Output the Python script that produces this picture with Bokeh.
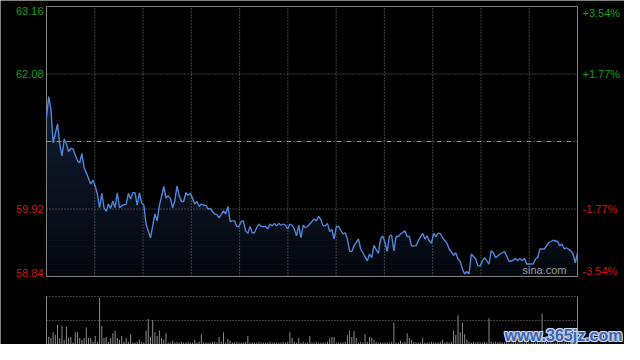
import numpy as np
from bokeh.plotting import figure
from bokeh.models import Range1d
from bokeh.core.properties import value
from bokeh.embed import file_html
from bokeh.resources import INLINE

# ---------------- data ----------------
prev_close = 61.00
price_min, price_max = 58.84, 63.16

minutes = [0, 1, 2, 3, 5, 6, 7, 8, 9, 10, 11, 12, 14, 15, 16, 17, 18, 20, 21, 22, 23, 24, 25, 26, 27, 28, 29, 30,
           31, 32, 33, 34, 35, 36, 37, 38, 39, 40, 41, 42, 43, 44, 45, 47, 48, 49, 50, 51, 53, 54, 55, 56, 57, 58,
           59, 60, 61, 62, 63, 64, 65, 66, 67, 68, 69, 70, 71, 72, 73, 74, 75, 76, 77, 78, 80, 81, 82, 83, 84, 85,
           86, 87, 88, 89, 90, 91, 92, 93, 94, 95, 96, 97, 99, 100, 101, 102, 103, 104, 105, 106, 107, 108, 109,
           110, 111, 112, 113, 114, 115, 116, 117, 118, 119, 121, 122, 123, 124, 125, 126, 127, 128, 129, 130, 131,
           132, 134, 135, 136, 137, 138, 139, 141, 142, 143, 145, 146, 147, 148, 149, 150, 151, 152, 153, 154, 155,
           156, 157, 158, 159, 160, 162, 163, 164, 165, 167, 168, 170, 171, 172, 173, 174, 175, 176, 177, 178, 179,
           181, 182, 184, 185, 186, 187, 188, 189, 190, 191, 192, 194, 195, 196, 197, 198, 199, 200, 201, 202, 203,
           205, 207, 208, 209, 211, 212, 213, 214, 215, 216, 217, 220, 221, 222, 223, 225, 227, 229, 231, 232, 233,
           234, 235, 237, 238, 239, 240]

prices = [61.38, 61.72, 61.52, 60.98, 61.28, 60.96, 60.77, 61.04, 60.96, 60.84, 60.89, 60.88, 60.69, 60.66, 60.81,
          60.58, 60.50, 60.32, 60.38, 60.29, 60.16, 59.94, 60.17, 59.94, 59.88, 60.00, 59.93, 60.05, 59.94, 60.18,
          59.94, 59.97, 59.99, 59.99, 60.17, 60.08, 60.18, 60.18, 59.98, 60.18, 60.02, 59.98, 59.68, 59.46, 59.65,
          59.84, 59.73, 59.97, 60.28, 60.10, 60.13, 60.09, 59.94, 60.05, 60.29, 60.13, 60.04, 60.04, 60.18, 60.14,
          60.17, 60.09, 60.00, 60.04, 59.96, 60.00, 59.98, 59.98, 59.92, 59.93, 59.88, 59.84, 59.83, 59.78, 59.89,
          59.84, 59.96, 59.72, 59.73, 59.73, 59.64, 59.64, 59.72, 59.73, 59.57, 59.53, 59.64, 59.54, 59.54, 59.62,
          59.68, 59.64, 59.64, 59.60, 59.68, 59.65, 59.69, 59.65, 59.69, 59.66, 59.68, 59.66, 59.60, 59.68, 59.66,
          59.60, 59.49, 59.66, 59.46, 59.66, 59.62, 59.64, 59.68, 59.76, 59.73, 59.80, 59.75, 59.65, 59.65, 59.69,
          59.56, 59.59, 59.44, 59.64, 59.64, 59.52, 59.54, 59.44, 59.24, 59.24, 59.33, 59.44, 59.28, 59.22, 59.09,
          59.20, 59.14, 59.34, 59.27, 59.21, 59.44, 59.49, 59.38, 59.24, 59.49, 59.50, 59.25, 59.48, 59.48, 59.52,
          59.57, 59.48, 59.48, 59.33, 59.33, 59.41, 59.53, 59.44, 59.49, 59.41, 59.37, 59.53, 59.48, 59.53, 59.53,
          59.46, 59.37, 59.28, 59.18, 59.22, 59.12, 59.08, 58.96, 58.88, 58.92, 58.88, 59.20, 59.12, 59.01, 59.01,
          59.09, 59.14, 59.09, 59.04, 59.25, 59.22, 59.14, 59.20, 59.24, 59.17, 59.08, 59.10, 59.13, 59.09, 59.13,
          59.09, 59.13, 59.04, 59.04, 59.12, 59.14, 59.28, 59.28, 59.38, 59.42, 59.40, 59.33, 59.36, 59.28, 59.30,
          59.25, 59.20, 59.06, 59.22]

vol_minutes = list(range(241))
volume = [18, 8, 7, 13, 10, 21, 7, 20, 5, 19, 7, 8, 2, 13, 13, 7, 5, 7, 18, 7,
          7, 3, 9, 3, 50, 20, 7, 8, 3, 7, 12, 15, 7, 5, 9, 3, 7, 3, 11, 2,
          2, 3, 5, 3, 2, 15, 27, 8, 26, 13, 9, 15, 7, 5, 12, 2, 2, 4, 2, 3,
          2, 3, 2, 2, 3, 2, 2, 5, 2, 3, 11, 2, 2, 2, 2, 3, 3, 2, 8, 3,
          13, 2, 6, 4, 2, 2, 3, 2, 2, 2, 3, 9, 2, 2, 2, 2, 3, 2, 2, 2,
          2, 3, 2, 2, 2, 2, 2, 3, 2, 3, 13, 7, 3, 2, 7, 2, 3, 2, 2, 9,
          2, 2, 3, 2, 2, 2, 2, 3, 7, 8, 8, 2, 2, 2, 2, 3, 10, 15, 8, 14,
          7, 2, 3, 2, 11, 3, 8, 7, 5, 3, 2, 2, 2, 2, 2, 2, 3, 23, 2, 2,
          4, 2, 3, 12, 7, 5, 3, 2, 2, 2, 7, 2, 2, 2, 3, 2, 2, 2, 3, 5,
          2, 3, 2, 3, 15, 10, 31, 13, 23, 11, 5, 3, 2, 3, 2, 3, 2, 2, 3, 2,
          28, 3, 2, 3, 2, 3, 2, 2, 3, 2, 2, 3, 2, 2, 3, 2, 2, 3, 2, 2,
          3, 2, 3, 2, 33, 8, 3, 2, 3, 2, 2, 3, 2, 2, 3, 2, 2, 3, 2, 2, 4]

price_ticks = [63.16, 62.08, 59.92, 58.84]
price_labels = ["63.16", "62.08", "59.92", "58.84"]
pct_labels = ["+3.54%", "+1.77%", "-1.77%", "-3.54%"]

# ---------------- geometry (pixels in canvas) ----------------
W, H = 624, 344
FL, FR = 46, 577          # price/volume frame left/right
FT, FB = 6, 276           # price frame top/bottom
VT, VB = 296, 344         # volume frame top/bottom
N_MIN = 240
vmax = 51

px_per_min = (FR - FL) / N_MIN
x_start = -FL / px_per_min
x_end = N_MIN + (W - FR) / px_per_min
py = (price_max - price_min) / (FB - FT)
y_end = price_max + FT * py
y_start = price_min - (H - FB) * py
vy = vmax / (VB - VT)
v_end = vmax + VT * vy
v_start = 0 - (H - VB) * vy

GREEN = "#14a014"
RED = "#d21414"
GRID = "#7c7c7c"
BORDER = "#808080"
FONT = "Liberation Sans"

p = figure(width=W, height=H, x_range=Range1d(x_start, x_end), y_range=Range1d(y_start, y_end),
           output_backend="svg", toolbar_location=None, tools="",
           x_axis_location=None, y_axis_location=None,
           background_fill_color="black", border_fill_color="black",
           min_border=0, outline_line_color=None)
p.grid.visible = False
p.extra_y_ranges = {"vol": Range1d(v_start, v_end)}

# area with vertical gradient (base fill + darkening bands)
p.varea(x=minutes, y1=price_min, y2=prices, fill_color="#121d33", fill_alpha=1.0)
nb = 30
edges = np.linspace(price_min, max(prices), nb + 1)
alphas = np.linspace(0.75, 0.0, nb)
p.quad(left=0, right=N_MIN, bottom=edges[:-1], top=edges[1:], fill_color="black",
       fill_alpha=alphas, line_color=None)

# grid lines
gx = [N_MIN * k / 11 for k in range(1, 11)]
p.segment(x0=gx, y0=price_min, x1=gx, y1=price_max, line_color=GRID, line_width=1, line_dash="1 2")
gy = [price_ticks[1], price_ticks[2]]
p.segment(x0=0, y0=gy, x1=N_MIN, y1=gy, line_color=GRID, line_width=1, line_dash="1 2")
p.segment(x0=[0], y0=[prev_close], x1=[N_MIN], y1=[prev_close], line_color="#8e8e8e", line_width=1,
          line_dash="5 2 1 2")

# frame border
p.quad(left=[0], right=[N_MIN], bottom=[price_min], top=[price_max], fill_alpha=0,
       line_color=BORDER, line_width=1)

# price line
p.line(minutes, prices, line_color="#4f86dc", line_width=1.4)

# tick labels
groups = [("top", [0]), ("middle", [1, 2]), ("bottom", [3])]
colors = [GREEN, GREEN, RED, RED]
for bl, idx in groups:
    p.text(x=[0] * len(idx), y=[price_ticks[i] for i in idx], text=[price_labels[i] for i in idx],
           text_color=[colors[i] for i in idx], x_offset=-3, text_align="right", text_baseline=bl,
           text_font=value(FONT), text_font_size="11px")
    p.text(x=[N_MIN] * len(idx), y=[price_ticks[i] for i in idx], text=[pct_labels[i] for i in idx],
           text_color=[colors[i] for i in idx], x_offset=5, text_align="left", text_baseline=bl,
           text_font=value(FONT), text_font_size="11px")

p.text(x=[N_MIN], y=[price_min], text=["sina.com"], x_offset=-11, y_offset=-1, text_align="right",
       text_baseline="bottom", text_color="#9a9a9a", text_font=value(FONT), text_font_size="11px")

# ---------------- volume panel ----------------
p.vbar(x=vol_minutes, top=volume, bottom=0, width=0.45, fill_color="#8c8c8c", line_color=None,
       y_range_name="vol")
p.segment(x0=0, y0=[vmax, vmax / 2], x1=N_MIN, y1=[vmax, vmax / 2], line_color=GRID, line_width=1,
          line_dash="1 2", y_range_name="vol")
p.segment(x0=[0, N_MIN], y0=0, x1=[0, N_MIN], y1=vmax, line_color=BORDER, line_width=1,
          y_range_name="vol")

wm = "www.365jz.com"
for dx, dy in [(-1, 0), (1, 0), (0, -1), (0, 1), (-1, -1), (1, 1), (1, -1), (-1, 1)]:
    p.text(x=[N_MIN], y=[0], text=[wm], x_offset=45 + dx, y_offset=-1 + dy, text_align="right",
           text_baseline="bottom", text_color="#c9d2ee", text_font=value(FONT),
           text_font_style="bold", text_font_size="16px", y_range_name="vol")
p.text(x=[N_MIN], y=[0], text=[wm], x_offset=45, y_offset=-1, text_align="right", text_baseline="bottom",
       text_color="#3d64b0", text_font=value(FONT), text_font_style="bold", text_font_size="16px",
       y_range_name="vol")

open("out.html", "w").write(file_html(p, INLINE))
